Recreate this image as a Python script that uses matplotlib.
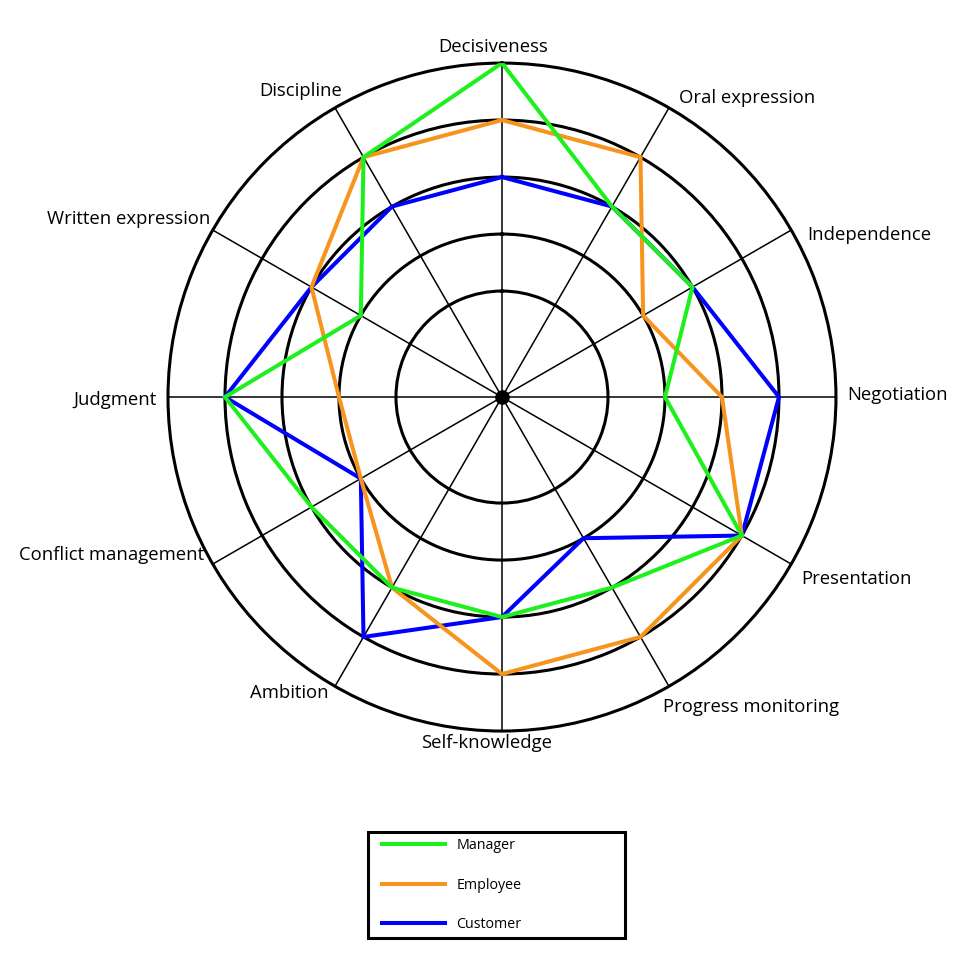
import numpy as np
import matplotlib
matplotlib.use("Agg")
import matplotlib.pyplot as plt
from matplotlib.patches import Rectangle

categories = ["Decisiveness", "Oral expression", "Independence", "Negotiation",
              "Presentation", "Progress monitoring", "Self-knowledge", "Ambition",
              "Conflict management", "Judgment", "Written expression", "Discipline"]
manager = [5, 3, 3, 2, 4, 3, 3, 3, 3, 4, 2, 4]
employee = [4, 4, 2, 3, 4, 4, 4, 3, 2, 2, 3, 4]
customer = [3, 3, 3, 4, 4, 2, 3, 4, 2, 4, 3, 3]
series = [("Manager", manager, "#1ef01e"),
          ("Employee", employee, "#f7941d"),
          ("Customer", customer, "#0000ff")]
levels = [1, 2, 3, 4]
rmin, rmax = -0.86, 5

# small hand nudges (pixels) so labels sit like the original artwork
nudge = [(-9, -4), (5, -9), (7, -10), (0, 2), (1, -9), (-11, -2),
         (-15, 8), (-1, 12), (1, 15), (0, -3), (7, 6), (13, -2)]

plt.rcParams["font.family"] = ["Open Sans", "DejaVu Sans"]
fig = plt.figure(figsize=(9.6, 9.6), dpi=100)
ax = fig.add_axes([0.175, 0.2385, 0.6958, 0.6958], projection="polar")
ax.set_theta_offset(np.pi / 2)
ax.set_theta_direction(-1)
ax.set_ylim(rmin, rmax)

n = len(categories)
theta = np.arange(n) * 2 * np.pi / n
ax.set_xticks(theta)
ax.set_xticklabels([])
ax.set_yticks(levels)
ax.set_yticklabels([])
ax.tick_params(length=0)
ax.xaxis.grid(True, color="black", lw=1.1)
ax.yaxis.grid(True, color="black", lw=2.2)
ax.spines["polar"].set_linewidth(2.2)
ax.spines["polar"].set_color("black")

# draw bottom series first so Manager sits on top
handles = {}
for z, (name, vals, col) in zip([5, 4, 3], series):
    t = np.append(theta, theta[0])
    v = np.append(vals, vals[0])
    ln, = ax.plot(t, v, color=col, lw=2.9, zorder=z, solid_joinstyle="miter", label=name)
    handles[name] = ln

ax.plot([0], [rmin], "o", color="black", ms=9.5, zorder=6, clip_on=False)

# category labels outside outer ring
pad = 11
for th, lab, (nx, ny) in zip(theta, categories, nudge):
    a = np.pi / 2 - th
    c, s = np.cos(a), np.sin(a)
    ha = "left" if c > 0.3 else ("right" if c < -0.3 else "center")
    va = "bottom" if s > 0.6 else ("top" if s < -0.6 else "center")
    ax.annotate(lab, xy=(th, rmax), xytext=(pad * c + nx, pad * s + ny),
                textcoords="offset pixels", ha=ha, va=va, fontsize=13.3,
                annotation_clip=False)

# legend: boxed frame drawn separately so the right side keeps its blank space
W = H = 960.0
fig.patches.append(Rectangle((368 / W, 1 - 938 / H), 257 / W, 106 / H, transform=fig.transFigure,
                             fill=False, edgecolor="black", lw=2.2))
fig.legend([handles[s[0]] for s in series], [s[0] for s in series],
           loc="upper left", bbox_to_anchor=(382 / W, 1 - 838 / H), frameon=False,
           fontsize=10.3, handlelength=4.4, handletextpad=0.8,
           labelspacing=1.73, borderpad=0, borderaxespad=0)

fig.savefig("out.png", dpi=100)
